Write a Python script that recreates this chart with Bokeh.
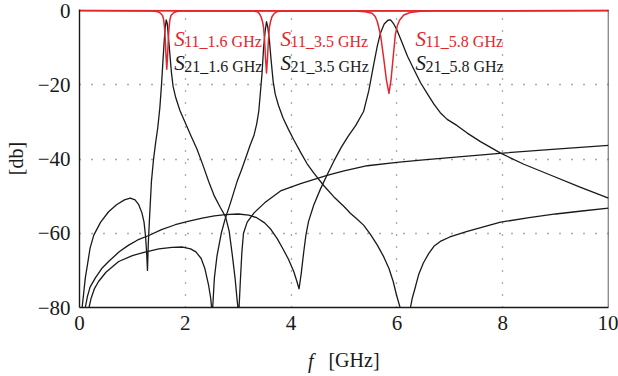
import math

from bokeh.plotting import figure
from bokeh.models import Range1d, FixedTicker, Label, Span, LinearAxis
from bokeh.embed import file_html
from bokeh.resources import INLINE

NaN = float("nan")

# ---- transmission S21 of the three filters (frequency in GHz, level in dB) ----
f_s21_16 = [0.05, 0.08, 0.11, 0.15, 0.20, 0.27, 0.40, 0.55, 0.70, 0.85, 0.96, 1.05, 1.12,
            1.18, 1.22, 1.25, 1.27, 1.285, 1.30, 1.32, 1.36, 1.40, 1.44, 1.48, 1.52, 1.55,
            1.58, 1.60, 1.62, 1.64, 1.66, 1.68, 1.71, 1.74, 1.77, 1.82, 1.90, 2.00, 2.10,
            2.22, 2.33, 2.44, 2.55, 2.66, 2.76, 2.83, 2.89, 2.94, 2.98, 3.01, 3.04, 3.07,
            3.10, 3.17, 3.30, 3.50, 3.80, 4.18, 4.68, 5.00, 5.44, 6.00, 6.45, 7.00, 8.00,
            9.00, 10.0]
db_s21_16 = [-80, -76, -72, -68.5, -64, -60.5, -57, -54.2, -52.3, -51, -50.5, -51, -52.3,
             -54.5, -57, -61, -65.5, -70, -63, -57, -46, -40, -35.5, -31.5, -26, -20,
             -13, -8.5, -4.5, -2.5, -3.5, -7, -12, -17, -20.5, -23.5, -27, -30.2, -33.5,
             -37.3, -41.5, -46, -50, -53, -55.5, -59.5, -66, -72, -78, -82, -73, -65,
             -60, -57, -54.5, -51.8, -48.6, -46.6, -44.4, -43.2, -41.8, -40.9, -40.3, -39.6, -38.4,
             -37.3, -36.3]

f_s21_35 = [0.18, 0.22, 0.28, 0.36, 0.50, 0.74, 1.00, 1.20, 1.50, 1.75, 1.95, 2.10, 2.20,
            2.30, 2.37, 2.44, 2.48, 2.51, 2.55, 2.60, 2.68, 2.76, 2.85, 2.98, 3.06, 3.14,
            3.22, 3.30, 3.35, 3.39, 3.42, 3.45, 3.48, 3.51, 3.535, 3.56, 3.59, 3.62, 3.66,
            3.70, 3.76, 3.85, 3.95, 4.05, 4.18, 4.30, 4.43, 4.62, 4.81, 5.00, 5.12, 5.25,
            5.37, 5.50, 5.63, 5.75, 5.85, 5.93, 5.99, 6.07, NaN, 6.25, 6.29, 6.33, 6.41,
            6.50, 6.60, 6.70, 6.82, 7.00, 7.33, 7.96, 8.50, 9.00, 9.50, 10.0]
db_s21_35 = [-80, -77.5, -75, -73, -70.5, -67.6, -66, -65.2, -64.2, -63.8, -63.7, -64.2, -65,
             -66.8, -69.5, -74, -77.5, -82, -72, -66, -60, -55.8, -52, -46, -43, -39.8,
             -36.5, -33.5, -30.5, -27, -22, -17, -10, -5.5, -3.0, -4.5, -8, -13, -19,
             -22.5, -25.5, -29, -32, -34.8, -38.2, -41.2, -43.8, -47.2, -50.2, -52.8, -54.6, -56.2,
             -57.8, -60.3, -63.2, -66.3, -69.5, -73, -76.5, -80.5, NaN, -80.5, -77.5, -75.5, -71.2,
             -68, -65.5, -63.5, -62.2, -61, -59.5, -57, -55.8, -54.8, -54, -53.2]

f_s21_58 = [0.11, 0.15, 0.20, 0.30, 0.42, 0.55, 0.75, 0.93, 1.10, 1.31, 1.55, 1.81, 2.05,
            2.32, 2.55, 2.76, 3.00, 3.20, 3.35, 3.50, 3.62, 3.74, 3.85, 3.95, 4.05, 4.11,
            4.15, 4.19, 4.21, 4.24, 4.28, 4.33, 4.43, 4.56, 4.68, 4.81, 4.95, 5.08, 5.22,
            5.37, 5.47, 5.56, 5.63, 5.69, 5.76, 5.83, 5.88, 5.94, 6.00, 6.08, 6.20, 6.32,
            6.45, 6.58, 6.70, 6.82, 6.95, 7.14, 7.33, 7.58, 7.96, 8.40, 8.90, 9.45, 10.0]
db_s21_58 = [-80, -77, -74.5, -72, -69.5, -67.6, -65, -63.2, -61.8, -60.6, -59, -57.7, -56.8,
             -55.9, -55.3, -55, -54.8, -55.1, -55.8, -57.2, -59, -61.5, -64.3, -67, -70.3, -73,
             -75, -71, -68.5, -64.9, -60.5, -56.8, -52.3, -47.9, -44.3, -40.5, -36.8, -33.8, -31,
             -27.2, -21.5, -14.6, -9.5, -6, -3.6, -2.6, -2.5, -3.6, -5.2, -8, -12.3, -15.8,
             -19.5, -22.5, -25.2, -27.5, -29.3, -31, -33, -35.3, -38.4, -41.4, -44.3, -47.5, -50.5]

# ---- reflection S11 of the three filters ----
f_s11_16 = [0.0, 1.40, 1.48, 1.53, 1.57, 1.59, 1.605, 1.62, 1.635, 1.65, 1.665, 1.68, 1.695,
            1.71, 1.73, 1.77, 1.82, 1.90, 10.0]
db_s11_16 = [0, -0.1, -0.3, -0.7, -1.3, -2.4, -4.2, -7.5, -12, -15.8, -12, -7.5, -4.2,
             -2.4, -1.3, -0.7, -0.3, -0.1, 0]

f_s11_35 = [0.0, 3.28, 3.36, 3.40, 3.43, 3.46, 3.48, 3.50, 3.515, 3.535, 3.555, 3.57, 3.59,
            3.61, 3.64, 3.68, 3.73, 3.80, 10.0]
db_s11_35 = [0, -0.1, -0.3, -0.8, -1.6, -3.0, -4.5, -8.3, -12.5, -16.8, -12.5, -8.3, -4.5,
             -3.0, -1.6, -0.8, -0.3, -0.1, 0]

f_s11_58 = [0.0, 5.20, 5.40, 5.53, 5.59, 5.63, 5.69, 5.75, 5.80, 5.85, 5.89, 5.93, 5.97,
            6.01, 6.05, 6.13, 6.25, 6.45, 6.65, 10.0]
db_s11_58 = [0, -0.1, -0.3, -0.7, -1.6, -3.0, -6.5, -12.8, -18.5, -22.3, -18.5, -12.5, -6.5,
             -4.0, -2.6, -1.2, -0.5, -0.2, -0.05, 0]

# axis ticks and labels
x_ticks = [0, 2, 4, 6, 8, 10]
y_ticks = [-80, -60, -40, -20, 0]
y_tick_labels = ["\u221280", "\u221260", "\u221240", "\u221220", "0"]
band_names = ["1.6 GHz", "3.5 GHz", "5.8 GHz"]
x_symbol = "f"
x_unit = "[GHz]"

SERIF = "Liberation Serif"
BLACK = "#1a1a1a"
RED = "#e3262e"
NBSP = "\u00a0"

p = figure(width=618, height=376, output_backend="svg", toolbar_location=None,
           x_range=Range1d(0, 10), y_range=Range1d(-80, 0.3),
           min_border_left=79, min_border_right=10, min_border_top=9, min_border_bottom=69)

p.background_fill_color = "white"
p.border_fill_color = "white"
p.outline_line_color = None

# axes
p.xaxis.ticker = FixedTicker(ticks=x_ticks)
p.yaxis.ticker = FixedTicker(ticks=y_ticks)
p.yaxis.major_label_overrides = {float(t): s for t, s in zip(y_ticks, y_tick_labels)}
for ax in (p.xaxis[0], p.yaxis[0]):
    ax.axis_line_color = BLACK
    ax.axis_line_width = 1.4
    ax.major_tick_line_color = None
    ax.minor_tick_line_color = None
    ax.major_tick_out = 0
    ax.major_tick_in = 0
    ax.major_label_text_font = SERIF
    ax.major_label_text_font_size = "21px"
    ax.major_label_text_color = BLACK
    ax.axis_label_text_font = SERIF
    ax.axis_label_text_font_size = "20px"
    ax.axis_label_text_font_style = "normal"
    ax.axis_label_text_color = BLACK
p.xaxis.major_label_standoff = 8
p.yaxis.major_label_standoff = 9
p.yaxis.axis_label = "[db]"
p.yaxis.axis_label_standoff = 8
# upright unit, nudged right of centre to leave room for the italic symbol
p.xaxis.axis_label = NBSP * 4 + x_unit
p.xaxis.axis_label_standoff = 16

# italic frequency symbol as the single tick label of a bare second axis,
# pulled up onto the same line as the unit
sym_axis = LinearAxis(ticker=FixedTicker(ticks=[4.37]),
                      major_label_overrides={4.37: x_symbol},
                      axis_line_color=None, major_tick_line_color=None,
                      minor_tick_line_color=None, major_tick_out=0, major_tick_in=0,
                      major_label_text_font=SERIF, major_label_text_font_size="20px",
                      major_label_text_font_style="italic", major_label_text_color=BLACK,
                      major_label_standoff=-24)
p.add_layout(sym_axis, "below")

# right frame edge
p.add_layout(Span(location=10, dimension="height", line_color=BLACK, line_width=1.4))

# dotted grid
p.xgrid.ticker = FixedTicker(ticks=[2, 4, 6, 8])
p.ygrid.ticker = FixedTicker(ticks=[-20, -40, -60])
for g in (p.xgrid[0], p.ygrid[0]):
    g.grid_line_color = "#555555"
    g.grid_line_width = 1.3
    g.grid_line_dash = "1 11"

# curves
for fx, db in ((f_s21_16, db_s21_16), (f_s21_35, db_s21_35), (f_s21_58, db_s21_58)):
    p.line(fx, db, line_color=BLACK, line_width=1.3, line_join="round")
for fx, db in ((f_s11_16, db_s11_16), (f_s11_35, db_s11_35), (f_s11_58, db_s11_58)):
    p.line(fx, db, line_color=RED, line_width=1.5, line_join="round")

# curve labels
label_x = [1.79, 3.80, 6.35]
for name, lx in zip(band_names, label_x):
    for idx, (yy, col) in enumerate(((-7.6, RED), (-14.2, BLACK))):
        p.add_layout(Label(x=lx, y=yy, text="S", text_font=SERIF, text_font_style="italic",
                           text_font_size="21px", text_color=col, text_baseline="alphabetic"))
        sub = ("11_" if idx == 0 else "21_") + name
        p.add_layout(Label(x=lx, y=yy, x_offset=10, y_offset=-3, text=sub, text_font=SERIF,
                           text_font_size="16px", text_color=col, text_baseline="alphabetic"))

open("out.html", "w").write(file_html(p, INLINE))
